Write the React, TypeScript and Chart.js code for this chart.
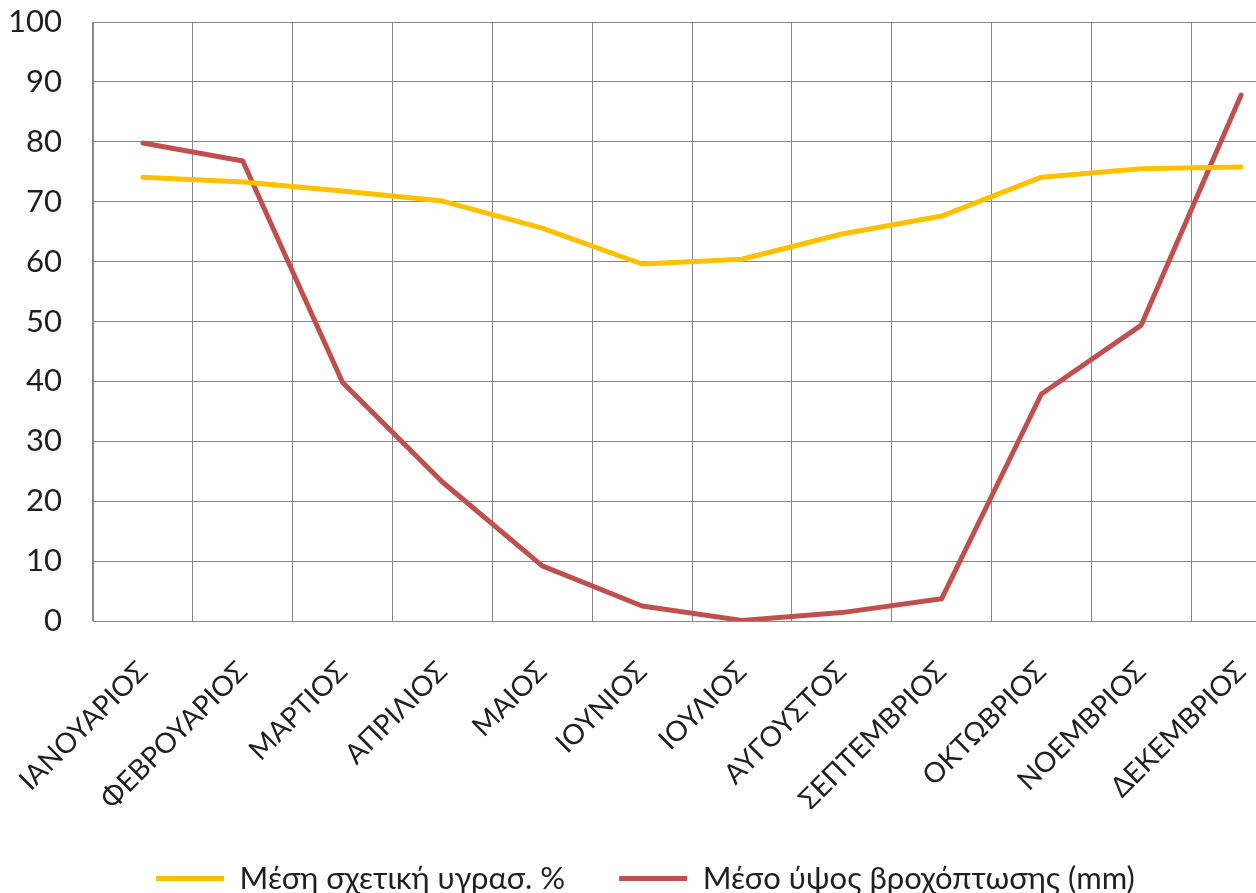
import React, { useEffect, useRef } from "react";
import { Chart, registerables } from "chart.js";

Chart.register(...registerables);

const months = [
  "ΙΑΝΟΥΑΡΙΟΣ",
  "ΦΕΒΡΟΥΑΡΙΟΣ",
  "ΜΑΡΤΙΟΣ",
  "ΑΠΡΙΛΙΟΣ",
  "ΜΑΙΟΣ",
  "ΙΟΥΝΙΟΣ",
  "ΙΟΥΛΙΟΣ",
  "ΑΥΓΟΥΣΤΟΣ",
  "ΣΕΠΤΕΜΒΡΙΟΣ",
  "ΟΚΤΩΒΡΙΟΣ",
  "ΝΟΕΜΒΡΙΟΣ",
  "ΔΕΚΕΜΒΡΙΟΣ",
];

const humidity = [74.1, 73.3, 71.8, 70.1, 65.6, 59.6, 60.4, 64.6, 67.6, 74.1, 75.5, 75.8];
const rainfall = [79.8, 76.8, 39.8, 23.2, 9.2, 2.5, 0.1, 1.4, 3.7, 37.9, 49.4, 87.8];

const humidityLabel = "Μέση σχετική υγρασ. %";
const rainfallLabel = "Μέσο ύψος βροχόπτωσης (mm)";

const FONT = "Lato, 'Open Sans', sans-serif";
const GRID = "#878787";
const TEXT = "#1f1f1f";

export default function App() {
  const ref = useRef<HTMLCanvasElement | null>(null);

  useEffect(() => {
    if (!ref.current) return;
    const chart = new Chart(ref.current, {
      type: "line",
      data: {
        labels: months,
        datasets: [
          {
            label: humidityLabel,
            data: humidity,
            borderColor: "#FFC000",
            backgroundColor: "#FFC000",
            borderWidth: 5,
            pointRadius: 0,
            pointHoverRadius: 0,
            borderCapStyle: "round",
            borderJoinStyle: "round",
            tension: 0,
          },
          {
            label: rainfallLabel,
            data: rainfall,
            borderColor: "#C0504D",
            backgroundColor: "#C0504D",
            borderWidth: 5,
            pointRadius: 0,
            pointHoverRadius: 0,
            borderCapStyle: "round",
            borderJoinStyle: "round",
            tension: 0,
          },
        ],
      },
      options: {
        responsive: false,
        animation: false,
        layout: { padding: { top: 22, right: 9, left: 0, bottom: 0 } },
        plugins: {
          tooltip: { enabled: false },
          legend: {
            position: "bottom",
            labels: {
              usePointStyle: true,
              pointStyle: "line",
              pointStyleWidth: 68,
              padding: 54,
              color: TEXT,
              font: { family: FONT, size: 31 },
            },
          },
        },
        scales: {
          x: {
            type: "category",
            offset: true,
            grid: { offset: true, color: GRID, lineWidth: 1, drawTicks: false },
            border: { color: GRID, width: 1 },
            ticks: {
              autoSkip: false,
              minRotation: 45,
              maxRotation: 45,
              padding: 34,
              color: TEXT,
              font: { family: FONT, size: 28 },
            },
            afterFit: (scale: any) => {
              scale.height = 188;
              scale.paddingLeft = 0;
              scale.paddingRight = 0;
            },
          },
          y: {
            min: 0,
            max: 100,
            grid: { color: GRID, lineWidth: 1, drawTicks: false },
            border: { color: GRID, width: 1 },
            ticks: {
              stepSize: 10,
              padding: 31,
              color: TEXT,
              font: { family: FONT, size: 31 },
            },
            afterFit: (scale: any) => {
              scale.width = 93;
              scale.paddingTop = 0;
              scale.paddingBottom = 0;
            },
          },
        },
      },
    });
    return () => chart.destroy();
  }, []);

  return (
    <div
      style={{
        position: "fixed",
        left: 0,
        top: 0,
        width: 1256,
        height: 893,
        overflow: "hidden",
        background: "#ffffff",
      }}
    >
      <canvas ref={ref} width={1300} height={904} style={{ display: "block" }} />
    </div>
  );
}
